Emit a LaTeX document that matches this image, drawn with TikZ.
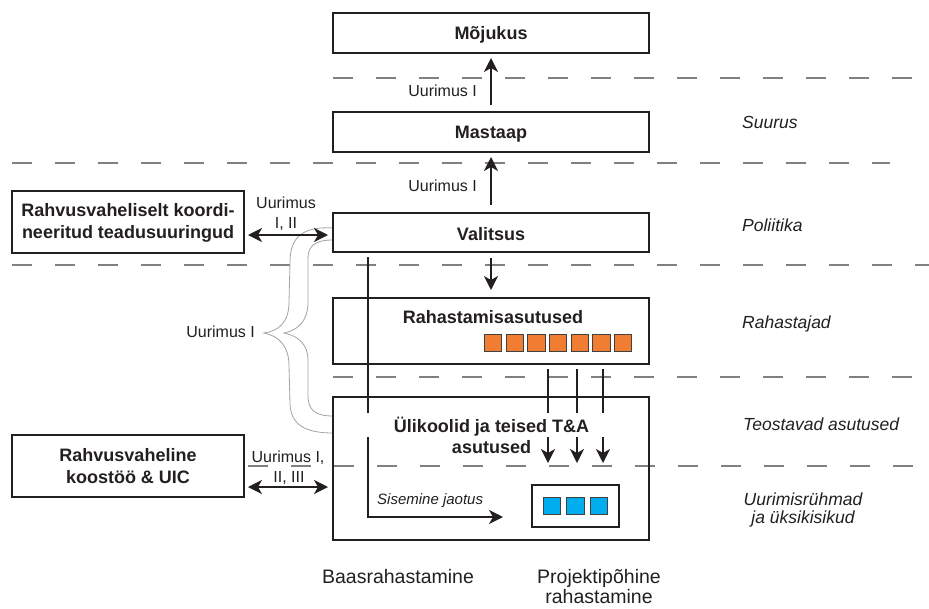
\documentclass[tikz,border=0pt]{standalone}
\usepackage{fontspec}
\setmainfont{Liberation Sans}
\usetikzlibrary{arrows.meta}
\definecolor{ink}{HTML}{231F20}
\definecolor{dashgray}{HTML}{808080}
\definecolor{fundorange}{HTML}{F07D32}
\definecolor{groupblue}{HTML}{00AEEF}
\definecolor{bracegray}{HTML}{A3A3A3}
\definecolor{sqedge}{HTML}{404040}

\begin{document}
\begin{tikzpicture}[x=1pt,y=-1pt,
  frame/.style={draw=ink, line width=1.6pt, inner sep=0pt, outer sep=0pt},
  level/.style={frame, minimum width=316pt},
  sidebox/.style={frame, minimum width=232pt, minimum height=62pt},
  boxtxt/.style={text=ink, font=\fontsize{18}{22}\selectfont\bfseries, inner sep=0pt},
  note/.style={text=ink, font=\fontsize{16}{19}\selectfont, inner sep=0pt},
  zone/.style={text=ink, font=\fontsize{17.5}{21}\selectfont\itshape, inner sep=0pt},
  foot/.style={text=ink, font=\fontsize{19.5}{23}\selectfont, inner sep=0pt},
  sep/.style={draw=dashgray, line width=1.1pt, dash pattern=on 20pt off 23pt},
  plain/.style={draw=ink, line width=1.5pt},
  tip/.tip={Stealth[length=14pt, width=14pt, inset=4pt]},
  arr/.style={plain, -tip},
  dbl/.style={plain, tip-tip},
  osq/.style={draw=sqedge, line width=0.8pt, fill=fundorange, minimum size=17.5pt, inner sep=0pt},
  bsq/.style={draw=sqedge, line width=0.8pt, fill=groupblue, minimum size=17.5pt, inner sep=0pt}
]
\useasboundingbox (0,0) rectangle (929,608);

% level separators
\draw[sep] (333,78) -- (929,78);
\draw[sep] (12,163) -- (890,163);
\draw[sep] (12,265) -- (929,265);
\draw[sep] (333,377) -- (929,377);
\draw[sep] (248,466) -- (929,466);

% outlined curly brace
\filldraw[fill=white, draw=bracegray, line width=0.8pt]
  (333,228) .. controls (302,226) and (290,238) .. (290,262)
  -- (289,302) .. controls (289,322) and (279,331) .. (264,333)
  .. controls (279,336) and (289,346) .. (289,366)
  -- (290,404) .. controls (291,424) and (304,433) .. (333,433)
  -- (333,416) .. controls (315,416) and (308,410) .. (308,395)
  -- (308,360) .. controls (308,345) and (299,336) .. (284,333)
  .. controls (299,330) and (308,320) .. (308,302)
  -- (308,258) .. controls (308,246) and (315,240) .. (333,240) -- cycle;

% boxes
\node[level, minimum height=40pt] (mo) at (491,33) {};
\node[level, minimum height=40pt] (ma) at (491,132) {};
\node[level, minimum height=39pt] (va) at (491,232.5) {};
\node[level, minimum height=66pt] (ra) at (491,331) {};
\node[level, minimum height=143pt] (ul) at (491,468.5) {};
\node[sidebox] (left1) at (128,222) {};
\node[sidebox] (left2) at (128,466) {};
\node[frame, line width=1.3pt, minimum width=87pt, minimum height=42pt] (grp) at (575.5,506) {};

% funding bodies and research groups
\foreach \i/\x in {1/493,2/514.7,3/536.3,4/558,5/579.7,6/601.3,7/623}
  \node[osq] (o\i) at (\x,343) {};
\foreach \i/\x in {1/552,2/575.5,3/599}
  \node[bsq] (b\i) at (\x,506) {};

% vertical flows
\draw[arr, shorten <=7pt, shorten >=5pt] (ma.north) -- (mo.south);
\draw[arr, shorten <=8pt, shorten >=5pt] (va.north) -- (ma.south);
\draw[arr, shorten <=6pt, shorten >=8pt] (va.south) -- (ra.north);

% international links
\draw[dbl, shorten <=4pt, shorten >=5pt]
  ([yshift=-13pt]left1.east) -- ([yshift=-13pt]left1.east -| va.west);
\draw[dbl, shorten <=4pt, shorten >=5pt]
  ([yshift=-21pt]left2.east) -- ([yshift=-21pt]left2.east -| ul.west);

% project-based funding
\foreach \x/\k in {548/1,577/2,603/3}{
  \coordinate (fa\k) at (\x,369);
  \coordinate (fb\k) at (\x,413);
  \coordinate (fc\k) at (\x,437);
  \coordinate (fd\k) at (\x,463);
  \draw[plain] (fa\k) -- (fb\k);
  \draw[arr] (fc\k) -- (fd\k);
}

% base funding and internal allocation
\coordinate (ba) at (368,257);
\coordinate (bb) at (368,413);
\coordinate (bc) at (368,437);
\coordinate (bd) at (368,517);
\coordinate (be) at (503,517);
\draw[plain] (ba) -- (bb);
\draw[arr] (bc) -- (bd) -- (be);

% box texts
\node[boxtxt, anchor=base] (tmo) at (491,39.5) {Mõjukus};
\node[boxtxt, anchor=base] (tma) at (491,138) {Mastaap};
\node[boxtxt, anchor=base] (tva) at (491,240) {Valitsus};
\node[boxtxt, anchor=base] (tra) at (493,323) {Rahastamisasutused};
\node[boxtxt, anchor=base] (tul1) at (491.5,432) {Ülikoolid ja teised T\&A};
\node[boxtxt, anchor=base] (tul2) at (491.5,453) {asutused};
\node[boxtxt, anchor=base] (tl1a) at (128,216.5) {Rahvusvaheliselt koordi-};
\node[boxtxt, anchor=base] (tl1b) at (128,238.5) {neeritud teadusuuringud};
\node[boxtxt, anchor=base] (tl2a) at (128,461.5) {Rahvusvaheline};
\node[boxtxt, anchor=base] (tl2b) at (128,483) {koostöö \& UIC};

% study labels
\node[note, anchor=base east] (s1) at (477,96.5) {Uurimus I};
\node[note, anchor=base east] (s2) at (477,191) {Uurimus I};
\node[note, anchor=base] (s3a) at (286,208) {Uurimus};
\node[note, anchor=base] (s3b) at (286,228) {I, II};
\node[note, anchor=base] (s4a) at (288,462) {Uurimus I,};
\node[note, anchor=base] (s4b) at (289,482) {II, III};
\node[note, anchor=base east] (s5) at (255,337) {Uurimus I};
\node[note, font=\fontsize{15}{18}\selectfont\itshape, anchor=base west] (alloc) at (377,504) {Sisemine jaotus};

% level names
\node[zone, anchor=base west] (z1) at (742,128) {Suurus};
\node[zone, anchor=base west] (z2) at (742,231) {Poliitika};
\node[zone, anchor=base west] (z3) at (742,328) {Rahastajad};
\node[zone, anchor=base west] (z4) at (743,430) {Teostavad asutused};
\node[zone, anchor=base] (z5a) at (803,505) {Uurimisrühmad};
\node[zone, anchor=base] (z5b) at (803,523) {ja üksikisikud};

% funding types
\node[foot, anchor=base] (f1) at (398,583.5) {Baasrahastamine};
\node[foot, anchor=base] (f2a) at (599,583.5) {Projektipõhine};
\node[foot, anchor=base] (f2b) at (599,603) {rahastamine};
\end{tikzpicture}
\end{document}
